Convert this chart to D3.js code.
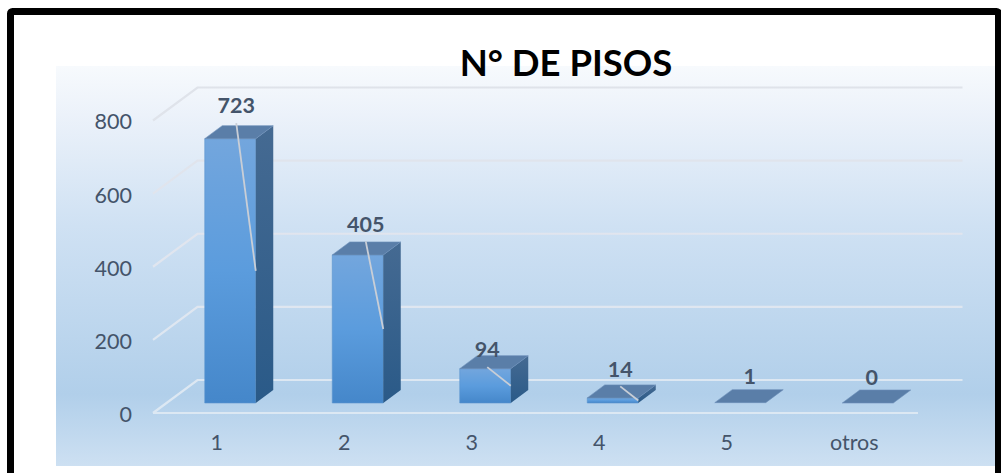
<!DOCTYPE html>
<html>
<head>
<meta charset="utf-8" />
<title>N° de pisos</title>
<style>
html, body { margin: 0; padding: 0; background: #fff; }
svg { display: block; font-family: Lato, "Open Sans", sans-serif; }
.axis text { fill: #44546a; font-size: 21.5px; font-family: Lato, "Open Sans", sans-serif; }
.axis path, .axis line { display: none; }
.grid { fill: none; stroke: url(#gridStroke); stroke-width: 2.2px; }
.leader { stroke: #c9ced6; stroke-width: 1.8px; }
.label { fill: #44546a; font-size: 21.5px; font-weight: 700; text-anchor: middle; }
</style>
</head>
<body>
<svg width="1001" height="473"></svg>
<script src="https://d3js.org/d3.v7.min.js"></script>
<script>

var categories = ["1", "2", "3", "4", "5", "otros"];
var values = [723, 405, 94, 14, 1, 0];
var yTicks = [0, 200, 400, 600, 800];

var svg = d3.select("svg");

// floor of the 3d plot, front edge
var x = d3.scaleBand().domain(categories).range([153, 918]).paddingInner(0).paddingOuter(0);
var y = d3.scaleLinear().domain([0, 800]).range([413, 120.5]);

// wall depth and where the bars sit in it
var depthX = 44.5, depthY = -33;
var barFrontX = 13.5, barFrontY = -10;
var barDepthX = 17.5, barDepthY = -13;
var barWidth = x.bandwidth() * 0.4;

// nudges of the data labels from the bar centre / top edge
var labelDx = [6, 8, 2, 7.5, 9.5, 4];
var labelDy = [-33, -31, -19, -29, -26, -26];

var defs = svg.append("defs");

function gradient(id, stops) {
  var g = defs.append("linearGradient").attr("id", id)
      .attr("x1", 0).attr("y1", 0).attr("x2", 0).attr("y2", 1);
  stops.forEach(function(s) {
    g.append("stop").attr("offset", s[0]).attr("stop-color", s[1]);
  });
  return g;
}

gradient("panelFill", [[0, "#f7fafd"], [0.12, "#ecf2fa"], [0.4, "#cfe1f3"], [0.82, "#b1cfea"], [1, "#cde0f2"]]);
gradient("frontFill", [[0, "#73a6dd"], [0.5, "#5b9cdd"], [1, "#4587ca"]]);
gradient("sideFill", [[0, "#456a92"], [1, "#2a5a88"]]);
// gridlines are darker than the panel at the top, lighter at the bottom
gradient("gridStroke", [[0, "#dfe3ea"], [0.45, "#e1e5ee"], [1, "#dce8f3"]])
    .attr("gradientUnits", "userSpaceOnUse")
    .attr("x1", 0).attr("x2", 0)
    .attr("y1", y(800) + depthY).attr("y2", y(0));

svg.append("rect")
    .attr("x", 56).attr("y", 66).attr("width", 940).attr("height", 400)
    .attr("fill", "url(#panelFill)");

// frame runs off the bottom and right of the picture
svg.append("rect")
    .attr("x", 10.5).attr("y", 11.5).attr("width", 988).attr("height", 480).attr("rx", 2)
    .attr("fill", "none").attr("stroke", "#000").attr("stroke-width", 7);

svg.append("text")
    .attr("x", 566).attr("y", 75.5)
    .attr("text-anchor", "middle")
    .attr("font-size", 36.5).attr("font-weight", 700).attr("fill", "#000")
    .text("N° DE PISOS");

var x0 = x.range()[0], x1 = x.range()[1];

svg.selectAll(".grid")
  .data(yTicks)
  .enter().append("path")
    .attr("class", "grid")
    .attr("d", function(d) {
      var p = d3.path();
      p.moveTo(x0, y(d));
      p.lineTo(x0 + depthX, y(d) + depthY);
      p.lineTo(x1 + depthX, y(d) + depthY);
      if (d === 0) {
        p.moveTo(x0, y(d));
        p.lineTo(x1, y(d));
      }
      return p.toString();
    });

svg.append("g")
    .attr("class", "axis")
    .attr("transform", "translate(" + x0 + ",1.5)")
    .call(d3.axisLeft(y).tickValues(yTicks).tickSize(0).tickPadding(21));

svg.append("g")
    .attr("class", "axis")
    .attr("transform", "translate(0," + y(0) + ")")
    .call(d3.axisBottom(x).tickSize(0).tickPadding(22));

var bars = categories.map(function(c, i) {
  var left = x(c) + x.bandwidth() / 2 - barWidth / 2 + barFrontX;
  var bottom = y(0) + barFrontY;
  var top = bottom - (y(0) - y(values[i]));
  return {cat: c, value: values[i], i: i, left: left, right: left + barWidth, top: top, bottom: bottom};
});

function poly(pts) {
  return pts.map(function(p) { return p.join(","); }).join(" ");
}

var bar = svg.selectAll(".bar")
  .data(bars)
  .enter().append("g")
    .attr("class", "bar");

bar.filter(function(d) { return d.value > 1; }).append("polygon")
    .attr("fill", "url(#frontFill)")
    .attr("stroke", "#5b93cf").attr("stroke-width", 0.6)
    .attr("points", function(d) {
      return poly([[d.left, d.top], [d.right, d.top], [d.right, d.bottom], [d.left, d.bottom]]);
    });

bar.filter(function(d) { return d.value > 1; }).append("polygon")
    .attr("fill", "url(#sideFill)")
    .attr("points", function(d) {
      return poly([[d.right, d.top], [d.right + barDepthX, d.top + barDepthY],
                   [d.right + barDepthX, d.bottom + barDepthY], [d.right, d.bottom]]);
    });

bar.append("polygon")
    .attr("fill", "#5a7ea8")
    .attr("stroke", "#6b8fb8").attr("stroke-width", 0.6)
    .attr("points", function(d) {
      return poly([[d.left, d.top], [d.right, d.top],
                   [d.right + barDepthX, d.top + barDepthY], [d.left + barDepthX, d.top + barDepthY]]);
    });

// leader lines go from under the label to the middle of the right edge
svg.selectAll(".leader")
  .data(bars.filter(function(d) { return d.value > 1; }))
  .enter().append("line")
    .attr("class", "leader")
    .attr("x1", function(d) { return (d.left + d.right) / 2 + labelDx[d.i]; })
    .attr("y1", function(d) { return d.top + labelDy[d.i] + 17.5; })
    .attr("x2", function(d) { return d.right; })
    .attr("y2", function(d) { return (d.top + d.bottom) / 2; });

svg.selectAll(".label")
  .data(bars)
  .enter().append("text")
    .attr("class", "label")
    .attr("x", function(d) { return (d.left + d.right) / 2 + labelDx[d.i]; })
    .attr("y", function(d) { return d.top + labelDy[d.i]; })
    .attr("dy", "0.36em")
    .text(function(d) { return d.value; });

</script>
</body>
</html>
